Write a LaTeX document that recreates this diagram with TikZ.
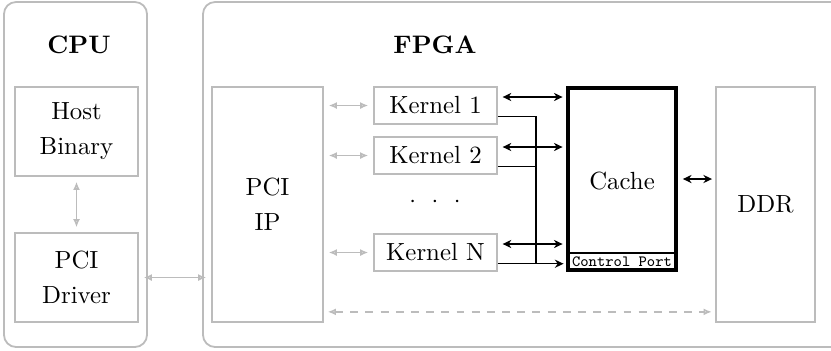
\documentclass[tikz,border=0pt]{standalone}
\usetikzlibrary{arrows.meta,fit,calc}
\definecolor{linegray}{RGB}{188,188,188}
\begin{document}
\begin{tikzpicture}[x=0.415pt,y=-0.415pt,
  outer/.style={draw=linegray,line width=0.75pt,rounded corners=5pt},
  graybox/.style={draw=linegray,line width=0.7pt,inner sep=0pt},
  cachebox/.style={draw=black,line width=1.3pt,inner sep=0pt},
  portbox/.style={draw=black,line width=0.5pt,inner sep=0pt},
  porttext/.style={inner sep=0pt,font=\fontsize{6.5}{7}\selectfont\ttfamily},
  boxtext/.style={align=center,inner sep=0pt,font=\fontsize{10.3}{14.5}\selectfont},
  title/.style={font=\fontsize{10.5}{12}\selectfont\bfseries},
  grayarrow/.style={draw=linegray,line width=0.7pt,
    {Latex[open,length=3.4pt,width=2.9pt]}-{Latex[open,length=3.4pt,width=2.9pt]}},
  blackarrow/.style={draw=black,line width=0.9pt,
    {Stealth[length=3.6pt,width=3.4pt]}-{Stealth[length=3.6pt,width=3.4pt]}},
  busline/.style={draw=black,line width=0.6pt}]
\useasboundingbox (0,0) rectangle (831,350);
\clip (0,0) rectangle (831,350);

% enclosing regions
\draw[outer] (4,2) rectangle (147,347);
\draw[outer] (203,2) rectangle (850,347);
\node[title] (cpulbl) at (79,45) {CPU};
\node[title] (fpgalbl) at (435,45) {FPGA};

% host side
\node[graybox,fit={(15,87) (138,176)}] (host) {};
\node[boxtext] (hostlbl) at (host.center) {Host\\Binary};
\node[graybox,fit={(15,233) (138,322)}] (drv) {};
\node[boxtext] (drvlbl) at (drv.center) {PCI\\Driver};

% FPGA side
\node[graybox,fit={(212,87) (323,322)}] (pci) {};
\node[boxtext] (pcilbl) at (pci.center) {PCI\\IP};
\node[graybox,fit={(374,87) (497,124)}] (k1) {};
\node[boxtext] (k1lbl) at (k1.center) {Kernel 1};
\node[graybox,fit={(374,137) (497,174)}] (k2) {};
\node[boxtext] (k2lbl) at (k2.center) {Kernel 2};
\node[graybox,fit={(374,234) (497,271)}] (kn) {};
\node[boxtext] (knlbl) at (kn.center) {Kernel N};
\node[boxtext] (dots) at (435,202) {$\cdot\hspace{4.2pt}\cdot\hspace{4.2pt}\cdot$};
\node[cachebox,fit={(568,88) (676,270)}] (cache) {};
\node[boxtext] (cachelbl) at (622,181) {Cache};
\node[portbox,fit={(568,253) (676,270)}] (ctrl) {};
\node[porttext] (ctrllbl) at (ctrl.center) {Control Port};
\node[graybox,fit={(716,87) (815,322)}] (ddr) {};
\node[boxtext] (ddrlbl) at (ddr.center) {DDR};

% gray host/PCI links
\draw[grayarrow,shorten <=2pt,shorten >=2pt] (host) -- (drv);
\draw[grayarrow,shorten <=2pt,shorten >=2pt] (drv.east) -- (drv.east -| pci.west);
\foreach \k in {k1,k2,kn}
  \draw[grayarrow,shorten <=2pt,shorten >=2pt] (\k.west -| pci.east) -- (\k.west);
\draw[grayarrow,dash pattern=on 3.3pt off 3pt,shorten <=1.6pt,shorten >=1.4pt]
  ($(pci.south east)+(0,-11)$) -- ($(ddr.south west)+(0,-11)$);

% kernel data ports to the cache
\foreach \k in {k1,k2,kn} {
  \coordinate (\k d) at ($(\k.north east)!0.28!(\k.south east)$);
  \coordinate (\k c) at ($(\k.north east)!0.79!(\k.south east)$);
  \draw[blackarrow,shorten <=2pt,shorten >=1.6pt] (\k d) -- (\k d -| cache.west);
}

% control bus
\coordinate (busx) at (536,0);
\draw[busline] (k1c) -| (knc -| busx);
\draw[busline] (k2c) -- (k2c -| busx);
\draw[busline,-{Stealth[length=3.6pt,width=3.4pt]},shorten >=1.6pt] (knc) -- (knc -| ctrl.west);

% cache to memory
\draw[blackarrow,line width=0.8pt,shorten <=2.2pt,shorten >=1.3pt] (cache.east) -- (cache.east -| ddr.west);
\end{tikzpicture}
\end{document}
